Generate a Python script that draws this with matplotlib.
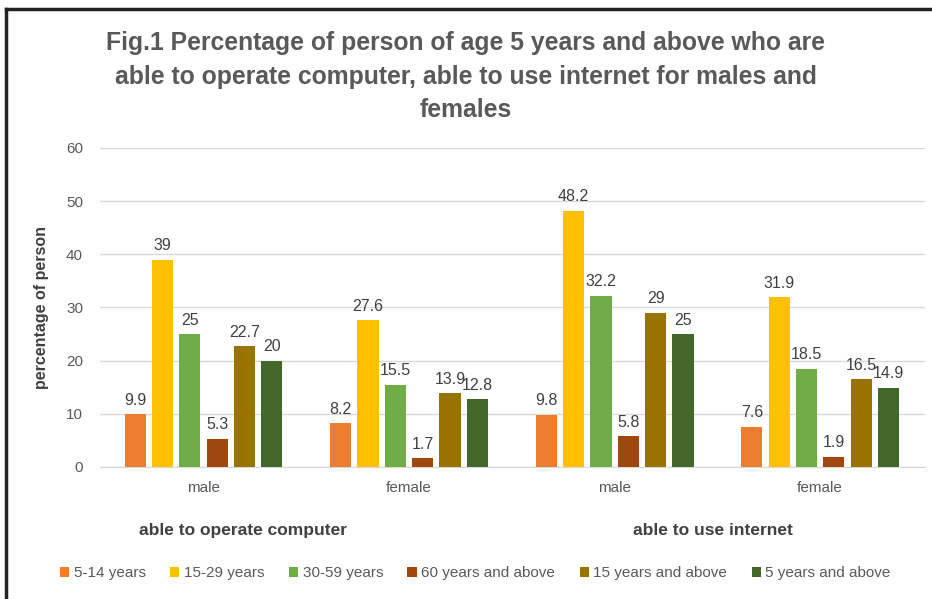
import numpy as np
import matplotlib
matplotlib.use("Agg")
from matplotlib import pyplot as plt

plt.rcParams['font.family'] = ['Liberation Sans', 'DejaVu Sans']

categories = ["male", "female", "male", "female"]
group_labels = ["able to operate computer", "able to use internet"]
series = ["5-14 years", "15-29 years", "30-59 years", "60 years and above",
          "15 years and above", "5 years and above"]
values = [
    [9.9, 8.2, 9.8, 7.6],
    [39, 27.6, 48.2, 31.9],
    [25, 15.5, 32.2, 18.5],
    [5.3, 1.7, 5.8, 1.9],
    [22.7, 13.9, 29, 16.5],
    [20, 12.8, 25, 14.9],
]
colors = ["#ED7D31", "#FFC000", "#70AD47", "#9E480E", "#997300", "#43682B"]

fig = plt.figure(figsize=(9.32, 5.99), dpi=100)
ax = fig.add_axes([0.107, 0.2204, 0.8855, 0.5326])

x = np.arange(len(categories))
slot = 0.133
width = 0.103
for i, (name, vals) in enumerate(zip(series, values)):
    pos = x + (i - 2.5) * slot
    bars = ax.bar(pos, vals, width, color=colors[i], label=name, zorder=3)
    for b, v in zip(bars, vals):
        ax.text(b.get_x() + b.get_width() / 2, v + 1.2, f"{v:g}",
                ha="center", va="bottom", fontsize=11.5, color="#404040")

ax.set_ylim(0, 60)
ax.set_xlim(-0.505, 3.51)
ax.set_yticks(range(0, 61, 10))
ax.yaxis.grid(True, color="#D9D9D9", linewidth=1, zorder=0)
for s in ["top", "right", "left"]:
    ax.spines[s].set_visible(False)
ax.spines["bottom"].set_color("#D9D9D9")
ax.tick_params(axis="both", length=0, labelsize=11, labelcolor="#595959")
ax.tick_params(axis="y", pad=12)
ax.set_xticks(x)
ax.set_xticklabels(categories)
ax.tick_params(axis="x", pad=10)
ax.set_ylabel("percentage of person", fontsize=11.5, fontweight="bold",
              color="#404040", labelpad=12)

# outer category labels
ax.text(0.19, -12.0, group_labels[0], ha="center", va="center", fontsize=12.5,
        fontweight="bold", color="#404040", clip_on=False)
ax.text(2.48, -12.0, group_labels[1], ha="center", va="center", fontsize=12.5,
        fontweight="bold", color="#404040", clip_on=False)

fig.text(0.5, 0.872, "Fig.1 Percentage of person of age 5 years and above who are\n"
         "able to operate computer, able to use internet for males and\nfemales",
         ha="center", va="center", fontsize=17.8, fontweight="bold", color="#595959",
         linespacing=1.5)

fig.legend(loc="center", bbox_to_anchor=(0.51, 0.043), ncol=6, frameon=False,
           fontsize=11, handlelength=0.6, handleheight=0.6, handletextpad=0.3,
           columnspacing=1.6, labelcolor="#595959")

# frame lines on left and top
fig.add_artist(plt.Line2D([0.006, 0.006], [0, 0.985], color="#222222", lw=2.5,
                          transform=fig.transFigure))
fig.add_artist(plt.Line2D([0.006, 1.0], [0.985, 0.985], color="#222222", lw=2.5,
                          transform=fig.transFigure))

fig.savefig("out.png", dpi=100)
